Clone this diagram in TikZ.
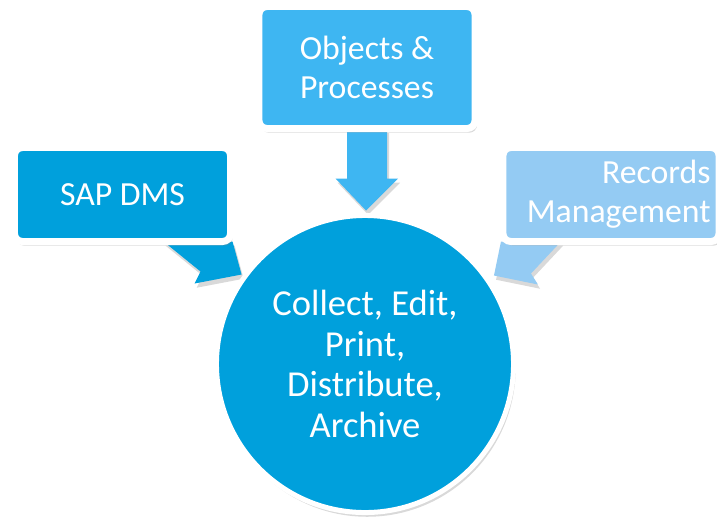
\documentclass[tikz,border=0pt]{standalone}
\usepackage{fontspec}
\setmainfont{Carlito}
\usetikzlibrary{calc,shadows}
\definecolor{sapblue}{RGB}{0,160,220}
\definecolor{objblue}{RGB}{62,182,242}
\definecolor{recblue}{RGB}{148,203,243}
\pgfdeclarelayer{back}
\pgfsetlayers{back,main}

\tikzset{
	softshadow/.style={drop shadow={shadow xshift=1.5pt, shadow yshift=-3pt, opacity=0.3}},
	box/.style={draw=white, line width=0.175cm, rounded corners=0.2cm, text=white,
		font=\fontsize{24}{27.5}\selectfont, align=center, inner sep=0pt,
		minimum width=5.4cm, minimum height=2.35cm, softshadow},
	hub/.style={circle, draw=white, line width=0.125cm, fill=sapblue, text=white,
		font=\fontsize{26}{29}\selectfont, align=center, inner sep=0pt,
		minimum size=7.425cm, softshadow}
}

\begin{document}
\begin{tikzpicture}[x=0.025cm, y=-0.025cm]
		%%%%% START %%%%%
		\useasboundingbox (0, 0) rectangle (717, 520);
		
		\node[box, fill=sapblue] (sap) at (122.5, 194.5) {SAP DMS};
		\node[box, fill=objblue, minimum height=3.05cm] (obj) at (367, 67.5) {Objects \&\\Processes};
		\node[box, fill=recblue, text width=4.98cm, align=right] (rec) at (611, 194.5) {Records\\Management};
		
		\node[hub] (hub) at (365, 364) {Collect, Edit,\\Print,\\Distribute,\\Archive};
		
		\begin{pgfonlayer}{back}
			% obj -> hub
			\fill[objblue, softshadow] ($(obj.south)+(-20,-3)$) -- ($(obj.south)+(-20,46.5)$) -- ($(obj.south)+(-31.5,46.5)$)
				-- ($(obj.south)+(-1,78.5)$) -- ($(obj.south)+(31,46.5)$) -- ($(obj.south)+(20,46.5)$) -- ($(obj.south)+(20,-3)$) -- cycle;
			% sap -> hub
			\fill[sapblue, softshadow] ($(sap.south east)+(-70.5,-3.5)$) -- ($(sap.south east)+(-33.5,26.5)$) -- ($(sap.south east)+(-39.5,38.5)$)
				-- ($(sap.south east)+(7.5,29.5)$) -- ($(sap.south east)+(-1.5,-3.5)$) -- cycle;
			% rec -> hub
			\fill[recblue, softshadow] ($(rec.south west)+(1.5,-3.5)$) -- ($(rec.south west)+(-5.5,30.5)$) -- ($(rec.south west)+(38.5,39.5)$)
				-- ($(rec.south west)+(31.5,28.5)$) -- ($(rec.south west)+(61.5,-3.5)$) -- cycle;
		\end{pgfonlayer}
		%%%%% END %%%%%
\end{tikzpicture}
\end{document}
